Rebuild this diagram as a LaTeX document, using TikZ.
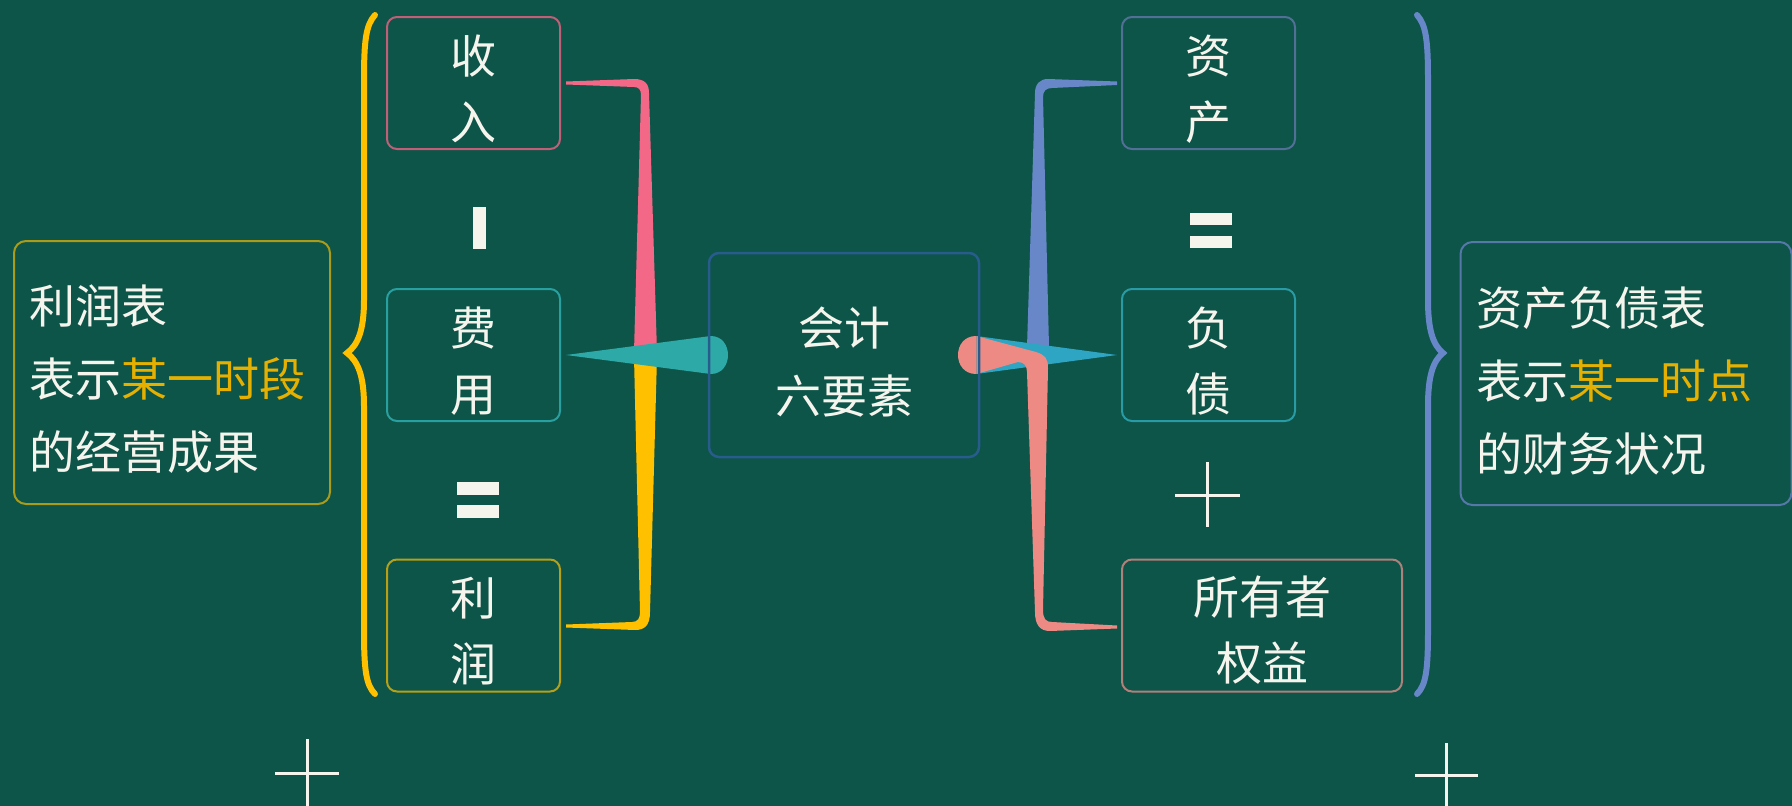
\documentclass[tikz,border=0pt]{standalone}
\usepackage{fontspec}
\setmainfont{Noto Sans CJK SC}
\usetikzlibrary{calc}
\definecolor{bgc}{RGB}{13,84,73}
\definecolor{txt}{RGB}{245,245,238}
\definecolor{hl}{RGB}{230,176,0}
\definecolor{shouruc}{RGB}{192,96,120}
\definecolor{feiyongc}{RGB}{40,160,160}
\definecolor{lirunc}{RGB}{184,160,20}
\definecolor{lrbc}{RGB}{170,155,25}
\definecolor{centerc}{RGB}{40,92,140}
\definecolor{zichanc}{RGB}{82,112,150}
\definecolor{fuzhaic}{RGB}{40,155,165}
\definecolor{syzc}{RGB}{176,128,122}
\definecolor{zcfzbc}{RGB}{86,120,168}
\definecolor{pinkc}{RGB}{242,104,134}
\definecolor{yelc}{RGB}{255,192,0}
\definecolor{tealw}{RGB}{45,170,168}
\definecolor{bluec}{RGB}{104,135,200}
\definecolor{tealb}{RGB}{45,165,195}
\definecolor{salmc}{RGB}{238,138,132}
\pgfdeclarelayer{bg}
\pgfsetlayers{bg,main}
\tikzset{
  box/.style={draw, line width=2pt, rounded corners=10pt, minimum width=173pt,
    minimum height=132pt, inner sep=0pt},
  boxtext/.style={inner sep=0pt, align=center, text=txt,
    font=\fontsize{46}{66}\selectfont},
  desc/.style={draw, line width=2pt, rounded corners=12pt, inner sep=0pt,
    minimum height=263pt},
  desctext/.style={inner sep=0pt, align=left, text=txt,
    font=\fontsize{46}{73}\selectfont},
  bracestroke/.style={line width=6pt, line cap=round},
  plusstroke/.style={draw=txt, line width=3pt},
}
\begin{document}
\begin{tikzpicture}[x=1pt,y=-1pt]
\useasboundingbox (0,0) rectangle (1792,806);
\begin{pgfonlayer}{bg}
\fill[bgc] (0,0) rectangle (1792,806);
\end{pgfonlayer}

% boxes
\node[box, draw=shouruc] (shouru) at (473.5,83) {};
\node[box, draw=feiyongc] (feiyong) at (473.5,355) {};
\node[box, draw=lirunc] (lirun) at (473.5,625.5) {};
\node[desc, draw=lrbc, minimum width=316pt] (lrb) at (172,372.5) {};
\node[box, draw=centerc, line width=2.5pt, minimum width=270pt, minimum height=204pt] (center) at (844,355) {};
\node[box, draw=zichanc] (zichan) at (1208.5,83) {};
\node[box, draw=fuzhaic] (fuzhai) at (1208.5,355) {};
\node[box, draw=syzc, minimum width=280pt] (syz) at (1262,625.5) {};
\node[desc, draw=zcfzbc, minimum width=331pt] (zcfzb) at (1626,373.5) {};

% texts
\node[boxtext] (shouru-t) at ($(shouru.center)+(0,6)$) {收\\入};
\node[boxtext] (feiyong-t) at ($(feiyong.center)+(0,6)$) {费\\用};
\node[boxtext] (lirun-t) at ($(lirun.center)+(0,6)$) {利\\润};
\node[boxtext, font=\fontsize{46}{68}\selectfont] (center-t) at ($(center.center)+(0,7)$) {会计\\六要素};
\node[boxtext] (zichan-t) at ($(zichan.center)+(0,6)$) {资\\产};
\node[boxtext] (fuzhai-t) at ($(fuzhai.center)+(0,6)$) {负\\债};
\node[boxtext] (syz-t) at ($(syz.center)+(0,5)$) {所有者\\权益};
\node[desctext, anchor=west] (lrb-t) at ($(lrb.west)+(16,7)$)
  {利润表\\表示{\color{hl}某一时段}\\的经营成果};
\node[desctext, anchor=west] (zcfzb-t) at ($(zcfzb.west)+(17,7)$)
  {资产负债表\\表示{\color{hl}某一时点}\\的财务状况};

% operators
\fill[txt] (473,207) rectangle (486,249);
\fill[txt] (457,482) rectangle (499,495);
\fill[txt] (457,505) rectangle (499,518);
\fill[txt] (1190,213) rectangle (1232,225);
\fill[txt] (1190,236) rectangle (1232,248);
\draw[plusstroke] (1175,495) -- (1240,495) (1207,462) -- (1207,527);
\draw[plusstroke] (275,773) -- (339,773) (307,739) -- (307,810);
\draw[plusstroke] (1415,775) -- (1478,775) (1446,743) -- (1446,810);

% braces
\draw[bracestroke, draw=yelc] (375,15) .. controls (366,25) and (364,40) .. (364,80)
  -- (364,300) .. controls (364,330) and (358,345) .. (347,353)
  .. controls (358,361) and (364,376) .. (364,406) -- (364,630)
  .. controls (364,670) and (366,685) .. (375,694);
\draw[bracestroke, draw=bluec] (1417,15) .. controls (1426,25) and (1428,40) .. (1428,80)
  -- (1428,300) .. controls (1428,330) and (1433,345) .. (1443,353)
  .. controls (1433,361) and (1428,376) .. (1428,406) -- (1428,630)
  .. controls (1428,670) and (1426,685) .. (1417,694);

% connectors (behind boxes)
\begin{pgfonlayer}{bg}
% left: pink to shouru
\fill[pinkc] ($(shouru.east)+(5,-1.5)$) -- (634,79) .. controls (645,79) and (649,84) .. (649,93)
  -- (657,352) -- (634,352) -- (641,95) .. controls (641,90) and (639,87) .. (634,87)
  -- ($(shouru.east)+(5,1.5)$) -- cycle;
% left: yellow to lirun
\fill[yelc] (634,357) -- (657,357) -- (650,612) .. controls (650,625) and (645,630) .. (635,630)
  -- ($(lirun.east)+(5,2)$) -- ($(lirun.east)+(5,-1)$) -- (632,622)
  .. controls (638,622) and (640,618) .. (640,612) -- cycle;
% left: teal wedge feiyong -> center
\fill[tealw] ($(feiyong.east)+(5,0)$) -- ($(center.west)+(3,-19)$)
  .. controls ($(center.west)+(26,-19)$) and ($(center.west)+(26,19)$) .. ($(center.west)+(3,19)$) -- cycle;
% right: blue to zichan
\fill[bluec] ($(zichan.west)+(-4,-1.5)$) -- (1048,79) .. controls (1040,79) and (1035,84) .. (1035,93)
  -- (1027,347) -- (1049,347) -- (1043,97) .. controls (1043,91) and (1046,88) .. (1052,88)
  -- ($(zichan.west)+(-4,2)$) -- cycle;
% right: teal wedge center -> fuzhai
\fill[tealb] ($(fuzhai.west)+(-4,0)$) -- ($(center.east)+(-4,-19)$) -- ($(center.east)+(-4,19)$) -- cycle;
% right: salmon to syz
\fill[salmc] ($(center.east)+(-4,-19)$) -- (1036,352) .. controls (1045,355) and (1048,358) .. (1048,368)
  -- (1043,610) .. controls (1043,619) and (1046,622) .. (1052,622)
  -- ($(syz.west)+(-4,0)$) -- ($(syz.west)+(-4,3)$)
  -- (1050,631) .. controls (1040,631) and (1035,625) .. (1035,612)
  -- (1027,372) .. controls (1027,366) and (1024,362) .. (1018,362)
  -- ($(center.east)+(-4,19)$) -- cycle;
\fill[salmc] ($(center.east)+(-4,-19)$) .. controls ($(center.east)+(-28,-19)$) and ($(center.east)+(-28,19)$) .. ($(center.east)+(-4,19)$) -- cycle;
\end{pgfonlayer}
\end{tikzpicture}
\end{document}
